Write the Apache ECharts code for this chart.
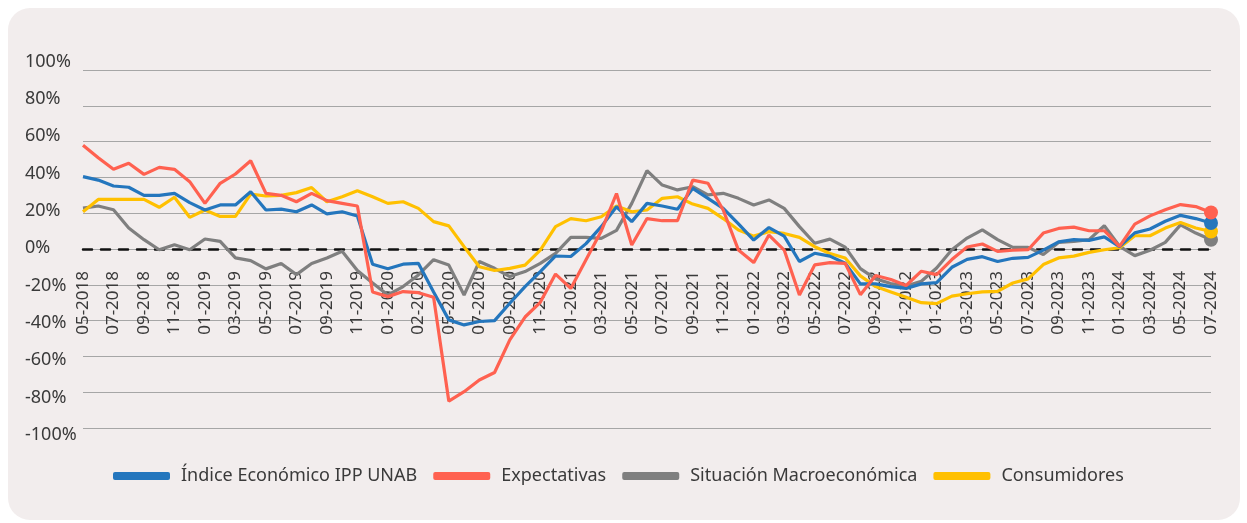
<!DOCTYPE html>
<html>
<head>
<meta charset="utf-8">
<script src="https://cdn.jsdelivr.net/npm/echarts@6/dist/echarts.min.js"></script>
<style>
  html, body { margin: 0; padding: 0; background: #ffffff; }
  .card {
    position: absolute; left: 8px; top: 8px; width: 1232px; height: 512px;
    border-radius: 22px; background: #f2eded;
  }
  #chart { position: absolute; left: 0; top: 0; width: 1247px; height: 523px; }
</style>
</head>
<body>
<div class="card"></div>
<div id="chart"></div>
<script>
// meses (la etiqueta "02-2020" aparece dos veces como en el original)
const months = [
  "05-2018","06-2018","07-2018","08-2018","09-2018","10-2018","11-2018","12-2018",
  "01-2019","02-2019","03-2019","04-2019","05-2019","06-2019","07-2019","08-2019","09-2019","10-2019","11-2019","12-2019",
  "01-2020","02-2020","02-2020","04-2020","05-2020","06-2020","07-2020","08-2020","09-2020","10-2020","11-2020","12-2020",
  "01-2021","02-2021","03-2021","04-2021","05-2021","06-2021","07-2021","08-2021","09-2021","10-2021","11-2021","12-2021",
  "01-2022","02-2022","03-2022","04-2022","05-2022","06-2022","07-2022","08-2022","09-2022","10-2022","11-2022","12-2022",
  "01-2023","02-2023","03-2023","04-2023","05-2023","06-2023","07-2023","08-2023","09-2023","10-2023","11-2023","12-2023",
  "01-2024","02-2024","03-2024","04-2024","05-2024","06-2024","07-2024"
];

const indice = [
  40.4, 38.5, 35.2, 34.5, 30, 30, 31.1, 25.9, 21.8, 24.6,
  24.6, 32, 21.8, 22.3, 20.8, 24.6, 19.6, 20.8, 18.4, -8.5,
  -11, -8.5, -8, -24, -39.6, -42.4, -40.5, -40, -30.3, -21,
  -12.6, -3.9, -4.2, 3, 12.5, 23.6, 15.3, 25.5, 24, 22.2,
  33.9, 28.3, 22.7, 14, 5, 12, 7.2, -7, -2.4, -4,
  -8, -19.5, -19.5, -21, -22, -19.5, -18.8, -10.2, -5.8, -4.3,
  -7, -5.2, -4.7, -0.6, 4, 5.2, 4.8, 6.8, 1.3, 9,
  11.2, 15.5, 18.8, 17, 14.5
];

const expectativas = [
  58, 51, 44.5, 47.9, 41.7, 45.6, 44.5, 37.6, 25.5, 36.7,
  41.9, 49.3, 31.1, 30, 26.4, 31.1, 27, 25.5, 24, -24,
  -26.6, -23.8, -24.4, -27, -85, -79.7, -73.2, -69, -50.8, -38,
  -29.8, -14, -22, -6, 10, 31, 2.2, 17, 15.8, 15.8,
  38.5, 36.7, 21.8, -0.6, -7.6, 7.8, -0.6, -25.7, -8.9, -7.6,
  -8, -25.5, -14.8, -17, -20.4, -12.4, -14.3, -5.9, 1.1, 2.8,
  -1.3, -0.7, -0.4, 8.9, 11.5, 12.2, 10.2, 10.2, 1.5, 13.9,
  18.5, 21.9, 24.8, 23.7, 20.4
];

const macro = [
  22.8, 24, 21.9, 11.7, 5.2, -0.4, 2.4, -0.4, 5.6, 4.3,
  -5, -6.5, -11.1, -8.1, -14.3, -8.1, -5, -1.3, -12, -19,
  -25.7, -21, -14.5, -6, -9, -25.7, -7, -10.8, -15.4, -12.6,
  -8, -2.4, 6.5, 6.5, 5.9, 10.4, 25.5, 43.8, 35.7, 33,
  34.8, 30.2, 31.1, 28.3, 24.6, 27.4, 22.7, 12.5, 3.2, 5.5,
  1, -11, -16.7, -19.3, -20.7, -18, -10.6, -0.4, 6.1, 10.7,
  5.2, 0.9, 0.9, -3.1, 3.7, 4.3, 5.2, 13, 1.5, -3.7,
  -0.7, 3.7, 13.5, 8.9, 5.2
];

const consumidores = [
  20.8, 27.7, 27.7, 27.7, 27.7, 23.3, 28.9, 17.7, 21.8, 18.2,
  18.2, 30.7, 29.6, 30, 31.5, 34.3, 26.4, 29.2, 32.6, 29.2,
  25.5, 26.4, 22.7, 15.3, 12.9, 1.3, -9.9, -12, -10.8, -9,
  -0.6, 12.5, 17, 15.8, 18, 24, 20.8, 21.8, 28.3, 29.2,
  25.1, 22.7, 17, 10.6, 7.2, 9.7, 8.7, 6.5, 1.3, -2.5,
  -5, -15, -21, -24, -27, -30, -30.5, -26.3, -25, -24,
  -23.7, -19, -16.7, -8.7, -5, -4, -1.9, -0.4, 0.7, 7.4,
  7.4, 11.7, 14.8, 11.7, 9.8
];

const seriesNames = ["Índice Económico IPP UNAB", "Expectativas", "Situación Macroeconómica", "Consumidores"];
const seriesColors = ["#2476bd", "#ff6150", "#7f7f7f", "#ffc000"];

const FONT = "Noto Sans";
const TEXT = "#3a3a3a";

// solo el ultimo punto lleva marcador
const withEndMarker = (values) =>
  values.map((v, i) => (i === values.length - 1 ? { value: v, symbol: "circle", symbolSize: 14 } : v));

const makeLine = (name, color, values, z) => ({
  name: name,
  type: "line",
  data: withEndMarker(values),
  symbol: "none",
  showAllSymbol: true,
  z: z,
  lineStyle: { color: color, width: 3.2 },
  itemStyle: { color: color },
  emphasis: { disabled: true }
});

const myChart = echarts.init(document.getElementById("chart"), null, { renderer: "canvas" });

const option = {
  animation: false,
  backgroundColor: "transparent",
  textStyle: { fontFamily: FONT },
  grid: [
    { left: 83, right: 36, top: 70, bottom: 95 },
    // rejilla auxiliar solo para las etiquetas del eje Y (van algo desfasadas en el original)
    { left: 83, right: 36, top: 61.5, bottom: 88 }
  ],
  legend: {
    left: 108,
    top: 462,
    data: seriesNames,
    icon: "roundRect",
    itemWidth: 57,
    itemHeight: 8,
    itemGap: 16,
    textStyle: { color: TEXT, fontSize: 18, fontFamily: FONT, padding: [0, 0, 0, 6] }
  },
  xAxis: [
    {
      type: "category",
      boundaryGap: false,
      data: months,
      offset: -179,
      axisLine: { onZero: false, lineStyle: { color: "#111", width: 2.5, type: [9, 9] } },
      axisTick: { show: false },
      axisLabel: { interval: 1, rotate: 90, color: TEXT, fontSize: 17, margin: 22, fontFamily: FONT },
      splitLine: { show: false }
    },
    { type: "category", gridIndex: 1, show: false, data: months }
  ],
  yAxis: [
    {
      type: "value",
      min: -100,
      max: 100,
      interval: 20,
      axisLine: { show: false },
      axisTick: { show: false },
      axisLabel: { show: false },
      splitLine: { lineStyle: { color: "#a6a6a6", width: 1 } }
    },
    {
      type: "value",
      gridIndex: 1,
      min: -100,
      max: 100,
      interval: 20,
      axisLine: { show: false },
      axisTick: { show: false },
      splitLine: { show: false },
      axisLabel: {
        formatter: "{value}%",
        align: "left",
        margin: 58,
        color: TEXT,
        fontSize: 18,
        fontFamily: FONT
      }
    }
  ],
  series: [
    makeLine(seriesNames[2], seriesColors[2], macro, 2),
    makeLine(seriesNames[3], seriesColors[3], consumidores, 3),
    makeLine(seriesNames[0], seriesColors[0], indice, 4),
    makeLine(seriesNames[1], seriesColors[1], expectativas, 5)
  ]
};

myChart.setOption(option);

window.addEventListener("resize", () => {
  myChart.resize();
});
</script>
</body>
</html>
